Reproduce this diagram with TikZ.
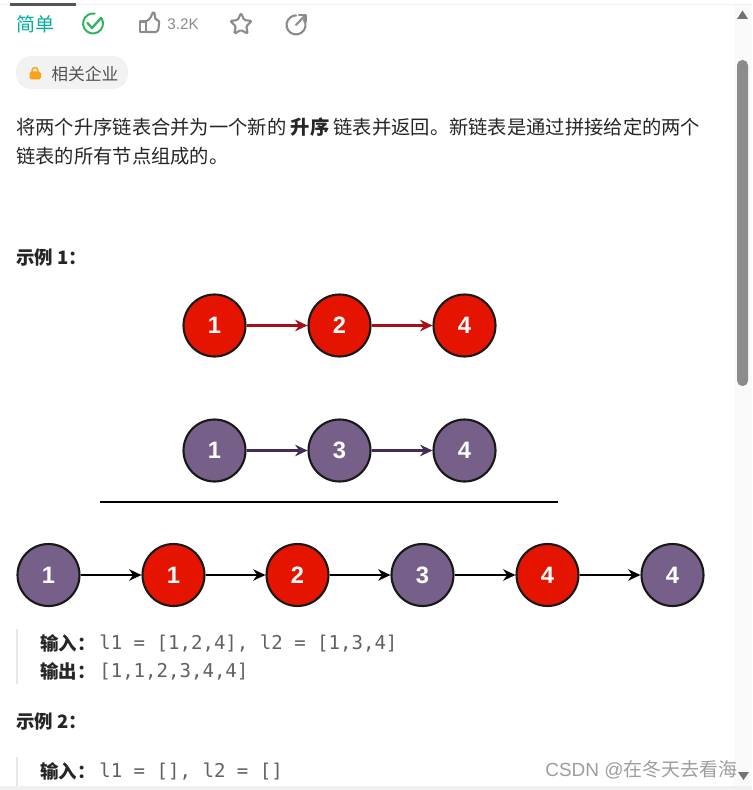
\documentclass[tikz,border=0pt]{standalone}
\usepackage{fontspec}
\setmainfont{Noto Sans CJK SC}
\setmonofont{DejaVu Sans Mono}
\newfontfamily\latinfont{Liberation Sans}
\usetikzlibrary{arrows.meta,shapes.geometric}
\definecolor{nodered}{HTML}{E51400}
\definecolor{nodepurple}{HTML}{76608A}
\definecolor{linkred}{HTML}{A50F15}
\definecolor{linkpurple}{HTML}{432D57}
\definecolor{easygreen}{HTML}{00AF9B}
\definecolor{checkgreen}{HTML}{2DB55D}
\definecolor{icongrey}{HTML}{8C8C8C}
\definecolor{lockorange}{HTML}{FFA116}
\newcommand{\pxfont}[1]{\fontsize{#1}{#1}\selectfont}
\tikzset{
    textline/.style={anchor=west, inner sep=0pt, text=black!85},
    headline/.style={textline, font=\pxfont{10.5}\bfseries},
    monoline/.style={anchor=west, inner sep=0pt, text=black!62, font=\pxfont{10.84}\ttfamily},
    listnode/.style={circle, draw=black!90, line width=1.2pt, minimum size=1.24cm, inner sep=0pt, text=white, font=\pxfont{13.5}\latinfont\bfseries},
    rednode/.style={listnode, fill=nodered},
    purplenode/.style={listnode, fill=nodepurple},
    redlink/.style={-{Stealth[length=7pt,width=6.5pt]}, draw=linkred, line width=1.2pt},
    purplelink/.style={-{Stealth[length=7pt,width=6.5pt]}, draw=linkpurple, line width=1.2pt},
    blacklink/.style={-{Stealth[length=7pt,width=6.5pt]}, draw=black, line width=1.3pt},
    iconline/.style={draw=icongrey, line width=1.2pt, line join=round, line cap=round},
    quotebar/.style={draw=black!9, line width=1pt}
}
\begin{document}
\begin{tikzpicture}[x=0.02cm, y=-0.02cm]
    \useasboundingbox (0,0) rectangle (752,790);
    \fill[white] (0,0) rectangle (752,790);
    % scroll bar and page edges
    \fill[black!2] (734,5) rectangle (752,786);
    \fill[black!6] (0,786) rectangle (752,790);
    \draw[black!6, line width=0.6pt] (0,4.5) -- (752,4.5);
    \fill[black!67] (10,3) rectangle (76,6);
    \fill[icongrey, rounded corners=3pt] (737,60) rectangle (748,386);
    \fill[black!55] (737,19) -- (742.5,10.5) -- (748,19) -- cycle;
    \fill[black!55] (738,772) -- (749,772) -- (743.5,780) -- cycle;
    % top row
    \node[textline, text=easygreen, font=\pxfont{10.8}] (level) at (16,24) {简单};
    \draw[checkgreen, line width=1.1pt, line cap=round] (101.7,18.5) arc (-30:280:10);
    \draw[checkgreen, line width=1.3pt, line cap=round, line join=round] (87.5,23) -- (92,28) -- (101,18);
    \draw[iconline] (140,21.5) rectangle (146,32);
    \draw[iconline, rounded corners=1.5pt] (146,21.5) -- (151,18) -- (152,12.5) -- (155,13) -- (155,20) -- (159.5,20) -- (158,32) -- (146,32);
    \node[textline, text=icongrey, font=\pxfont{8.7}\latinfont] (likes) at (167,24.5) {3.2K};
    \node[star, star points=5, star point ratio=2.1, iconline, minimum size=0.46cm, inner sep=0pt, rounded corners=0.8pt] (favourite) at (241,24.5) {};
    \draw[iconline] (303.8,19.5) arc (-35:270:9.5);
    \draw[iconline] (296,25) -- (305,15.5);
    \draw[iconline] (299,15) -- (305.5,15) -- (305.5,21.5);
    % tag
    \fill[black!5, rounded corners=8.5pt] (16,56) rectangle (128,89);
    \draw[lockorange, line width=0.8pt] (32,72) -- (32,70.5) arc (180:360:3) -- (38,72);
    \fill[lockorange, rounded corners=1pt] (29.5,71.5) rectangle (41,79.5);
    \node[textline, text=black!68, font=\pxfont{9.56}] (company) at (51,74) {相关企业};
    % description
    \node[textline, font=\pxfont{10.98}] (desca) at (16,127) {将两个升序链表合并为一个新的 \textbf{升序} 链表并返回。新链表是通过拼接给定的两个};
    \node[textline, font=\pxfont{10.98}] (descb) at (16,156) {链表的所有节点组成的。};
    \node[headline] (examplea) at (16,258) {示例 1：};
    % first list
    \node[rednode] (ra) at (214.5,325.5) {1};
    \node[rednode] (rb) at (339.5,325.5) {2};
    \node[rednode] (rc) at (464.5,325.5) {4};
    \draw[redlink] (ra) -- (rb);
    \draw[redlink] (rb) -- (rc);
    % second list
    \node[purplenode] (pa) at (214.5,450.5) {1};
    \node[purplenode] (pb) at (339.5,450.5) {3};
    \node[purplenode] (pc) at (464.5,450.5) {4};
    \draw[purplelink] (pa) -- (pb);
    \draw[purplelink] (pb) -- (pc);
    \draw[black, line width=1.1pt] (100,502) -- (558,502);
    % merged list
    \node[purplenode] (ma) at (48.5,575) {1};
    \node[rednode] (mb) at (173.5,575) {1};
    \node[rednode] (mc) at (297.5,575) {2};
    \node[purplenode] (md) at (422.5,575) {3};
    \node[rednode] (me) at (547.5,575) {4};
    \node[purplenode] (mf) at (672.5,575) {4};
    \draw[blacklink] (ma) -- (mb);
    \draw[blacklink] (mb) -- (mc);
    \draw[blacklink] (mc) -- (md);
    \draw[blacklink] (md) -- (me);
    \draw[blacklink] (me) -- (mf);
    % example text
    \draw[quotebar] (17,629) -- (17,684);
    \node[headline] (inputa) at (40,643) {输入：};
    \node[monoline] (inputaval) at (99,644) {l1 = [1,2,4], l2 = [1,3,4]};
    \node[headline] (outputa) at (40,671) {输出：};
    \node[monoline] (outputaval) at (99,672) {[1,1,2,3,4,4]};
    \node[headline] (exampleb) at (16,722) {示例 2：};
    \draw[quotebar] (17,757) -- (17,786);
    \node[headline] (inputb) at (40,771) {输入：};
    \node[monoline] (inputbval) at (99,772) {l1 = [], l2 = []};
    % watermark
    \node[textline, text=black!38, font=\pxfont{10.8}] (mark) at (545,770) {{\latinfont CSDN @}在冬天去看海};
\end{tikzpicture}
\end{document}
